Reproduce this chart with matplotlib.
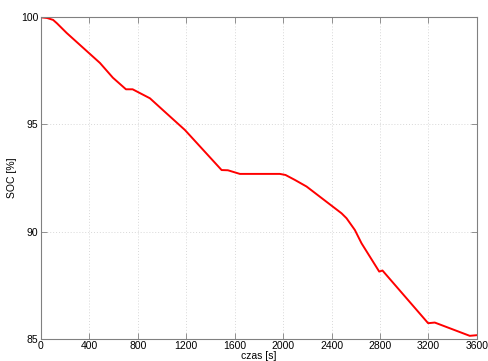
import matplotlib
matplotlib.use("Agg")
import matplotlib.pyplot as plt

# SOC curve
czas = [0, 50, 100, 132, 212, 487, 594, 702, 757, 900, 1007, 1189, 1492, 1544,
        1643, 1973, 2020, 2097, 2194, 2483, 2524, 2593, 2648, 2794, 2821,
        3198, 3253, 3542, 3600]
soc = [100.0, 99.97, 99.88, 99.72, 99.27, 97.87, 97.18, 96.64, 96.64, 96.22,
       95.67, 94.74, 92.87, 92.86, 92.69, 92.69, 92.64, 92.41, 92.10, 90.85,
       90.62, 90.07, 89.45, 88.13, 88.18, 85.72, 85.75, 85.13, 85.16]

x_ticks = [0, 400, 800, 1200, 1600, 2000, 2400, 2800, 3200, 3600]
y_ticks = [85, 90, 95, 100]

plt.rcParams["font.family"] = ["Liberation Sans", "DejaVu Sans"]

fig = plt.figure(figsize=(4.88, 3.61), dpi=100)
ax = fig.add_axes([0.084, 0.062, 0.893, 0.890])

ax.plot(czas, soc, color="#ff0000", linewidth=1.4)

ax.set_xlim(0, 3600)
ax.set_ylim(85, 100)
ax.set_xticks(x_ticks)
ax.set_yticks(y_ticks)
ax.grid(True, linestyle=(0, (1, 2)), color="#d8d8d8", linewidth=0.7)

for s in ax.spines.values():
    s.set_color("#808080")
    s.set_linewidth(0.8)
ax.tick_params(direction="in", top=True, right=True, length=4, width=0.6,
               color="#808080", labelsize=7.5, pad=2)

ax.set_xlabel("czas [s]", fontsize=7.5, labelpad=0)
ax.set_ylabel("SOC [%]", fontsize=7.5, labelpad=3)

fig.savefig("out.png", dpi=100)
